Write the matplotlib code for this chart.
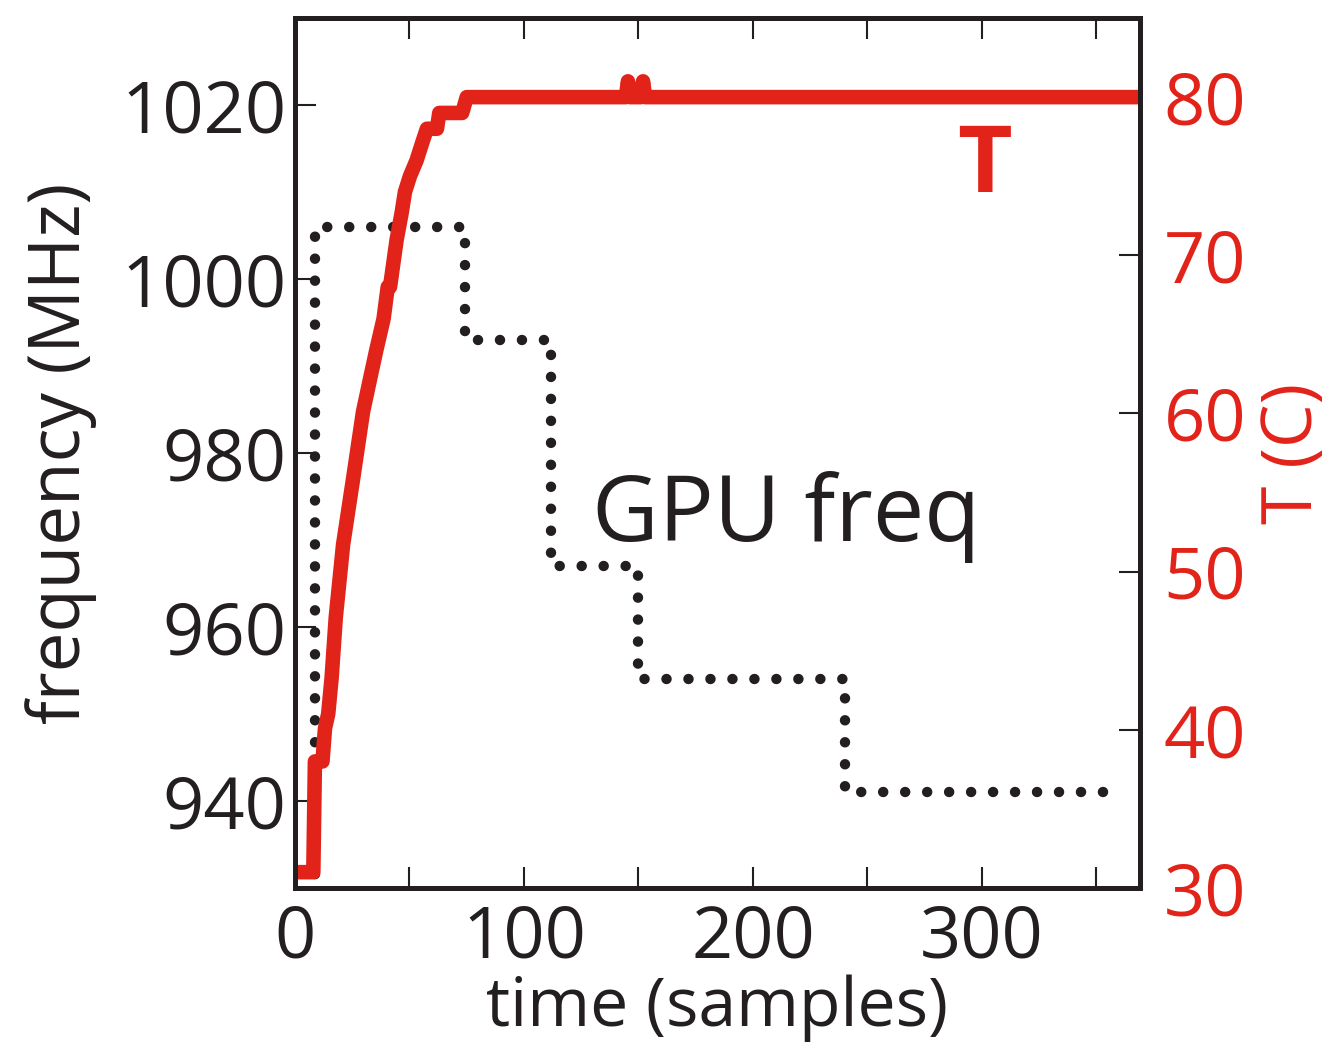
import matplotlib
matplotlib.use("Agg")
import matplotlib.pyplot as plt
from matplotlib.ticker import MultipleLocator

plt.rcParams['font.family'] = ['Open Sans', 'DejaVu Sans']

RED = "#e2231a"
DARK = "#231f20"

# GPU frequency steps (MHz), value holds from each start time
freq_time = [0, 8.7, 74.2, 111.8, 149.8, 240, 361.6]
freq_mhz = [900, 1006, 993, 967, 954, 941, 941]

# temperature trace (C), vertices
temp_time = [0, 8, 8.7, 12, 13.1, 14.5, 16, 17.8, 21, 25.4, 29.7, 32.8,
             35.5, 38.7, 40.5, 41.5, 44.4, 46.6, 48, 50.2, 53.1, 55.3,
             57.6, 62, 63, 73, 75, 144.5, 145.4, 146.3, 151.1, 152, 152.9, 369]
temp_c = [31, 31, 38, 38, 40.1, 41, 43.3, 47.1, 51.7, 55.9, 60.1, 62.2,
          64, 66, 68, 68, 71, 72.7, 74, 75, 76, 77,
          78, 78, 79, 79, 80, 80, 81, 80, 80, 81, 80, 80]

fig = plt.figure(figsize=(13.3, 10.49), dpi=100)
ax = fig.add_axes([0.2218, 0.1535, 0.6353, 0.8293])
ax2 = ax.twinx()

ax.step(freq_time, freq_mhz, where="post", color=DARK, lw=7.5,
        linestyle=(0, (0.01, 2.1)), dash_capstyle="round")
ax2.plot(temp_time, temp_c, color=RED, lw=10.5, solid_capstyle="butt",
         solid_joinstyle="round")

ax.set_xlim(0, 369)
ax.set_ylim(930, 1030)
ax2.set_ylim(30, 85)

ax.xaxis.set_major_locator(MultipleLocator(100))
ax.xaxis.set_minor_locator(MultipleLocator(50))
ax.set_yticks([940, 960, 980, 1000, 1020])
ax2.set_yticks([30, 40, 50, 60, 70, 80])

for a in (ax, ax2):
    for s in a.spines.values():
        s.set_linewidth(3.6)
        s.set_color(DARK)

ax.tick_params(axis="x", which="both", direction="in", length=15, width=1.5,
               top=True, color=DARK, labelsize=52, labelcolor=DARK, pad=11)
ax.tick_params(axis="y", which="both", direction="in", length=15, width=1.5,
               right=False, color=DARK, labelsize=52, labelcolor=DARK, pad=6)
ax2.tick_params(axis="y", direction="in", length=15, width=1.5,
                color=DARK, labelsize=52, labelcolor=RED, pad=17)

ax.set_xlabel("time (samples)", fontsize=49, color=DARK, labelpad=0)
ax.set_ylabel("frequency (MHz)", fontsize=51, color=DARK, labelpad=18)
ax2.set_ylabel("T (C)", fontsize=50, color=RED, labelpad=9)

ax.text(214.4, 972.6, "GPU freq", fontsize=66, color=DARK, ha="center", va="center")
ax.text(301, 1012.8, "T", fontsize=68, color=RED, fontweight="bold",
        ha="center", va="center")

fig.savefig("out.png", dpi=100)
